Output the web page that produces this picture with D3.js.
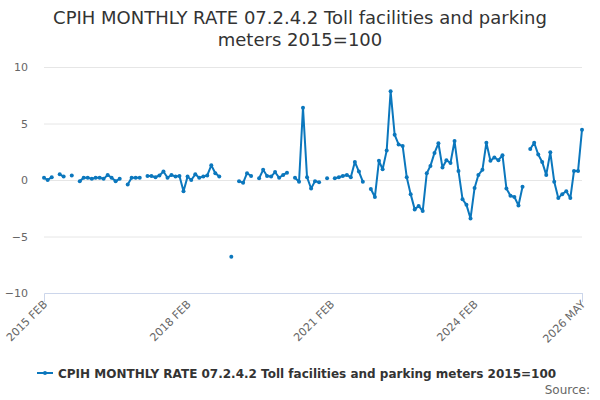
<!DOCTYPE html>
<html>
<head>
<meta charset="utf-8">
<script src="https://cdn.jsdelivr.net/npm/d3@7"></script>
<style>
  body { margin: 0; background: #fff; }
  svg { font-family: "DejaVu Sans", Verdana, sans-serif; }
</style>
</head>
<body>
<script>
var w = 600;
var h = 400;

var seriesName = "CPIH MONTHLY RATE 07.2.4.2 Toll facilities and parking meters 2015=100";
var titleLines = ["CPIH MONTHLY RATE 07.2.4.2 Toll facilities and parking", "meters 2015=100"];

// monthly values, Feb 2015 .. May 2026 (null = no value)
var values = [
  0.2, 0.0, 0.25, null, 0.5, 0.3, null, 0.4, null, -0.1, 0.2,
  0.2, 0.1, 0.2, 0.2, 0.1, 0.45, 0.2, -0.1, 0.1, null, -0.4, 0.2,
  0.2, 0.2, null, 0.35, 0.35, 0.25, 0.4, 0.75, 0.2, 0.45, 0.3, 0.35,
  -1.0, 0.3, 0.0, 0.5, 0.2, 0.3, 0.4, 1.3, 0.6, 0.3, null, null,
  -6.8, null, -0.1, -0.25, 0.6, 0.35, null, 0.15, 0.9, 0.35, 0.3, 0.7,
  0.2, 0.45, 0.65, null, 0.2, -0.15, 6.4, 0.25, -0.75, -0.1, -0.2, null,
  0.15, null, 0.15, 0.25, 0.35, 0.45, 0.25, 1.6, 0.75, -0.15, null, -0.8,
  -1.5, 1.7, 0.95, 2.6, 7.85, 4.0, 3.15, 3.0, 0.25, -1.25, -2.6, -2.3,
  -2.75, 0.6, 1.25, 2.4, 3.25, 1.1, 1.75, 1.5, 3.45, 0.8, -1.7, -2.2,
  -3.4, -0.7, 0.45, 0.9, 3.3, 1.7, 2.0, 1.75, 2.2, -0.75, -1.4, -1.5,
  -2.25, -0.6, null, 2.75, 3.3, 2.25, 1.6, 0.45, 2.45, -0.15, -1.6, -1.25,
  -1.0, -1.6, 0.8, 0.8, 4.45
];

var startMonth = new Date(2015, 1, 1);
var endMonth = new Date(2026, 4, 1);
var months = d3.timeMonth.range(startMonth, d3.timeMonth.offset(endMonth, 1));

var yTicks = [-10, -5, 0, 5, 10];
var xLabelDates = [new Date(2015, 1, 1), new Date(2018, 1, 1), new Date(2021, 1, 1), new Date(2024, 1, 1), new Date(2026, 4, 1)];
var xLabels = ["2015 FEB", "2018 FEB", "2021 FEB", "2024 FEB", "2026 MAY"];

var data = months.map(function(m, i) {
  return { date: m, value: values[i] };
});

var color = "#0b77bd";

var svg = d3.select("body")
  .append("svg")
  .attr("width", w)
  .attr("height", h);

var xScale = d3.scaleTime()
  .domain([startMonth, endMonth])
  .range([44, 582]);

var yScale = d3.scaleLinear()
  .domain([-10, 10])
  .range([293, 67]);

//title
svg.append("g")
  .attr("text-anchor", "middle")
  .selectAll("text")
  .data(titleLines)
  .enter()
  .append("text")
  .attr("x", w / 2)
  .attr("y", (d, i) => 24 + i * 22)
  .attr("font-size", 18)
  .attr("fill", "#333")
  .text(d => d);

//grid + y labels
var yAxis = d3.axisLeft(yScale)
  .tickValues(yTicks)
  .tickSize(-(582 - 44))
  .tickPadding(16);

var yg = svg.append("g")
  .attr("transform", "translate(44,0)")
  .call(yAxis);
yg.select(".domain").remove();
yg.selectAll(".tick line").attr("stroke", "#e6e6e6");
yg.selectAll(".tick text")
  .attr("fill", "#666")
  .attr("font-size", 11)
  .attr("font-family", "DejaVu Sans, sans-serif");
yg.selectAll(".tick").filter(d => d === -10).select("line").remove();

//x axis
var tickDates = d3.timeMonth.every(12).range(startMonth, d3.timeMonth.offset(endMonth, 1))
  .filter(d => d.getMonth() === 1);
tickDates.push(endMonth);

var xAxis = d3.axisBottom(xScale)
  .tickValues(tickDates)
  .tickSize(9)
  .tickFormat("");

var xg = svg.append("g")
  .attr("transform", "translate(0,293)")
  .call(xAxis);
xg.select(".domain").attr("stroke", "#ccd6eb");
xg.selectAll(".tick line").attr("stroke", "#ccd6eb");

svg.append("g")
  .selectAll("text")
  .data(xLabelDates)
  .enter()
  .append("text")
  .attr("transform", d => "translate(" + (xScale(d) + 4) + ",305) rotate(-45)")
  .attr("text-anchor", "end")
  .attr("font-size", 11)
  .attr("fill", "#666")
  .text((d, i) => xLabels[i]);

//line
var line = d3.line()
  .defined(d => d.value !== null)
  .x(d => xScale(d.date))
  .y(d => yScale(d.value));

svg.append("path")
  .datum(data)
  .attr("fill", "none")
  .attr("stroke", color)
  .attr("stroke-width", 2)
  .attr("stroke-linejoin", "round")
  .attr("d", line);

//dots
svg.append("g")
  .selectAll("circle")
  .data(data.filter(d => d.value !== null))
  .enter()
  .append("circle")
  .attr("cx", d => xScale(d.date))
  .attr("cy", d => yScale(d.value))
  .attr("r", 2)
  .attr("fill", color);

//legend
var lg = svg.append("g")
  .attr("transform", "translate(37,373)");
lg.append("line")
  .attr("x1", 0).attr("x2", 16)
  .attr("y1", 0).attr("y2", 0)
  .attr("stroke", color)
  .attr("stroke-width", 2);
lg.append("circle")
  .attr("cx", 8).attr("cy", 0).attr("r", 2)
  .attr("fill", color);
lg.append("text")
  .attr("x", 21)
  .attr("y", 4.5)
  .attr("font-size", 12)
  .attr("font-weight", "bold")
  .attr("fill", "#333")
  .text(seriesName);

//credits
svg.append("text")
  .attr("x", 590)
  .attr("y", 394)
  .attr("text-anchor", "end")
  .attr("font-size", 12)
  .attr("fill", "#666")
  .text("Source:");
</script>
</body>
</html>
